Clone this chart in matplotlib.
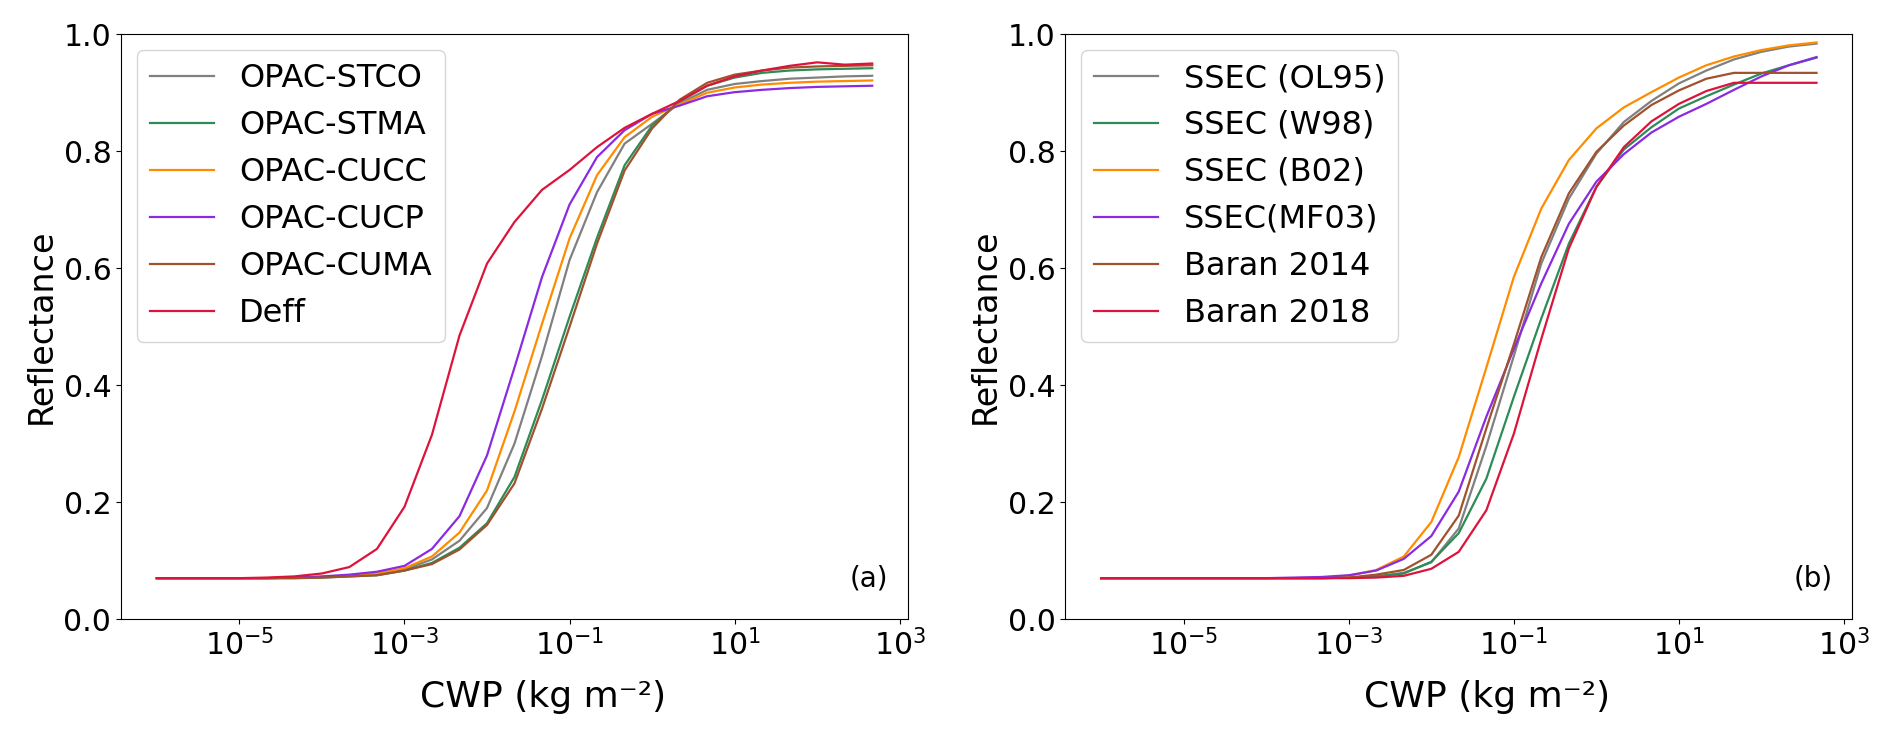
import matplotlib
matplotlib.use('Agg')
import matplotlib.pyplot as plt
import matplotlib.ticker as ticker

# CWP grid (kg m-2), one third of a decade per step
cwp = [1.0e-6, 2.15e-6, 4.64e-6, 1.0e-5, 2.15e-5, 4.64e-5, 1.0e-4, 2.15e-4, 4.64e-4,
       1.0e-3, 2.15e-3, 4.64e-3, 1.0e-2, 2.15e-2, 4.64e-2, 0.1, 0.215, 0.464,
       1.0, 2.15, 4.64, 10.0, 21.5, 46.4, 100.0, 215.0, 464.0]

# panel (a)
opac_stco = [0.070, 0.070, 0.070, 0.070, 0.070, 0.071, 0.072, 0.074, 0.077,
             0.085, 0.102, 0.134, 0.190, 0.300, 0.450, 0.614, 0.730, 0.813,
             0.847, 0.882, 0.905, 0.915, 0.920, 0.924, 0.926, 0.928, 0.929]
opac_stma = [0.070, 0.070, 0.070, 0.070, 0.070, 0.070, 0.071, 0.073, 0.075,
             0.083, 0.096, 0.122, 0.164, 0.243, 0.375, 0.517, 0.652, 0.776,
             0.844, 0.885, 0.912, 0.926, 0.934, 0.938, 0.940, 0.941, 0.942]
opac_cucc = [0.070, 0.070, 0.070, 0.070, 0.070, 0.071, 0.072, 0.074, 0.078,
             0.087, 0.107, 0.148, 0.220, 0.355, 0.505, 0.651, 0.759, 0.824,
             0.859, 0.880, 0.900, 0.909, 0.914, 0.917, 0.919, 0.920, 0.921]
opac_cucp = [0.070, 0.070, 0.070, 0.070, 0.070, 0.071, 0.073, 0.076, 0.081,
             0.091, 0.120, 0.176, 0.280, 0.430, 0.585, 0.709, 0.790, 0.836,
             0.864, 0.878, 0.894, 0.901, 0.905, 0.908, 0.910, 0.911, 0.912]
opac_cuma = [0.070, 0.070, 0.070, 0.070, 0.070, 0.070, 0.071, 0.073, 0.075,
             0.083, 0.094, 0.119, 0.161, 0.232, 0.360, 0.500, 0.642, 0.767,
             0.839, 0.888, 0.917, 0.931, 0.938, 0.943, 0.945, 0.946, 0.947]
deff = [0.070, 0.070, 0.070, 0.070, 0.071, 0.073, 0.078, 0.089, 0.120,
        0.192, 0.315, 0.485, 0.608, 0.679, 0.734, 0.768, 0.807, 0.840,
        0.864, 0.886, 0.912, 0.928, 0.938, 0.946, 0.952, 0.948, 0.950]

# panel (b)
ssec_ol95 = [0.070, 0.070, 0.070, 0.070, 0.070, 0.070, 0.070, 0.070, 0.070,
             0.071, 0.073, 0.079, 0.097, 0.155, 0.296, 0.450, 0.608, 0.719,
             0.796, 0.850, 0.886, 0.916, 0.938, 0.957, 0.970, 0.979, 0.984]
ssec_w98 = [0.070, 0.070, 0.070, 0.070, 0.070, 0.070, 0.070, 0.070, 0.070,
            0.071, 0.073, 0.078, 0.098, 0.147, 0.240, 0.380, 0.514, 0.642,
            0.739, 0.803, 0.841, 0.873, 0.894, 0.914, 0.933, 0.947, 0.960]
ssec_b02 = [0.070, 0.070, 0.070, 0.070, 0.070, 0.070, 0.070, 0.070, 0.071,
            0.074, 0.084, 0.107, 0.166, 0.277, 0.430, 0.585, 0.702, 0.785,
            0.839, 0.875, 0.901, 0.926, 0.947, 0.962, 0.973, 0.981, 0.986]
ssec_mf03 = [0.070, 0.070, 0.070, 0.070, 0.070, 0.070, 0.070, 0.071, 0.072,
             0.075, 0.083, 0.103, 0.142, 0.218, 0.346, 0.462, 0.574, 0.676,
             0.748, 0.795, 0.832, 0.859, 0.881, 0.905, 0.928, 0.947, 0.961]
baran2014 = [0.070, 0.070, 0.070, 0.070, 0.070, 0.070, 0.070, 0.070, 0.070,
             0.071, 0.076, 0.084, 0.110, 0.177, 0.326, 0.470, 0.619, 0.728,
             0.799, 0.844, 0.879, 0.904, 0.924, 0.934, 0.934, 0.934, 0.934]
baran2018 = [0.070, 0.070, 0.070, 0.070, 0.070, 0.070, 0.070, 0.070, 0.070,
             0.070, 0.071, 0.074, 0.086, 0.115, 0.186, 0.317, 0.479, 0.634,
             0.739, 0.807, 0.851, 0.881, 0.903, 0.917, 0.917, 0.917, 0.917]

colors = ['gray', 'seagreen', 'darkorange', 'blueviolet', 'sienna', 'crimson']

panels = [
    ('(a)', [opac_stco, opac_stma, opac_cucc, opac_cucp, opac_cuma, deff],
     ['OPAC-STCO', 'OPAC-STMA', 'OPAC-CUCC', 'OPAC-CUCP', 'OPAC-CUMA', 'Deff']),
    ('(b)', [ssec_ol95, ssec_w98, ssec_b02, ssec_mf03, baran2014, baran2018],
     ['SSEC (OL95)', 'SSEC (W98)', 'SSEC (B02)', 'SSEC(MF03)', 'Baran 2014', 'Baran 2018']),
]

fig, axes = plt.subplots(1, 2, figsize=(18.92, 7.45), dpi=100)
plt.subplots_adjust(left=0.064, right=0.979, bottom=0.169, top=0.954, wspace=0.2)

for ax, (tag, series, names) in zip(axes, panels):
    for ys, c, name in zip(series, colors, names):
        ax.plot(cwp, ys, color=c, lw=1.6, label=name)
    ax.set_xscale('log')
    ax.set_xticks([1e-5, 1e-3, 1e-1, 1e1, 1e3])
    ax.xaxis.set_minor_locator(ticker.NullLocator())
    ax.set_ylim(0, 1.0)
    ax.set_yticks([0.0, 0.2, 0.4, 0.6, 0.8, 1.0])
    ax.tick_params(labelsize=21.5)
    ax.set_xlabel('CWP (kg m\u207b\u00b2)', fontsize=26)
    ax.xaxis.set_label_coords(0.536, -0.104)
    ax.set_ylabel('Reflectance', fontsize=24)
    ax.legend(loc='upper left', fontsize=23)
    ax.text(0.975, 0.045, tag, transform=ax.transAxes, ha='right', va='bottom', fontsize=20)

plt.savefig('out.png', dpi=100)
